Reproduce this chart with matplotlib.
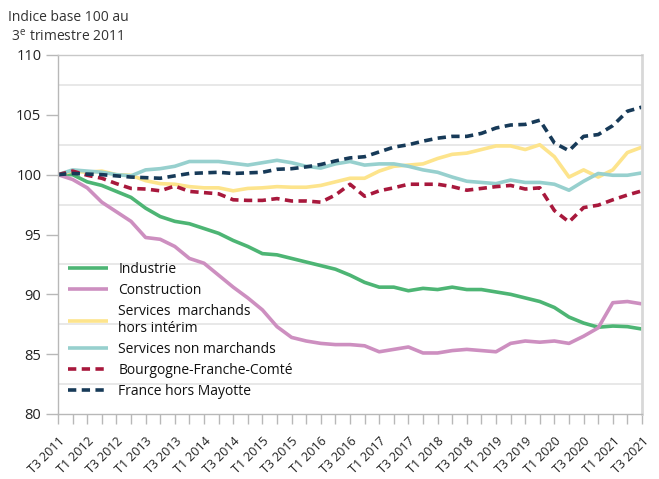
import matplotlib
matplotlib.use("Agg")
import matplotlib.pyplot as plt
import numpy as np

plt.rcParams['font.family'] = ['Open Sans', 'DejaVu Sans']
plt.rcParams['mathtext.fontset'] = 'custom'
plt.rcParams['mathtext.rm'] = 'Open Sans'

quarters = []
for y in range(2011, 2022):
    for q in (1, 2, 3, 4):
        if (y == 2011 and q < 3) or (y == 2021 and q > 3):
            continue
        quarters.append(f"T{q} {y}")

industrie = [100, 100, 99.4, 99.1, 98.6, 98.1, 97.2, 96.5, 96.1, 95.9, 95.5, 95.1, 94.5, 94.0,
             93.4, 93.3, 93.0, 92.7, 92.4, 92.1, 91.6, 91.0, 90.6, 90.6, 90.3, 90.5, 90.4, 90.6,
             90.4, 90.4, 90.2, 90.0, 89.7, 89.4, 88.9, 88.1, 87.6, 87.25, 87.35, 87.3, 87.1]
construction = [100, 99.6, 98.9, 97.7, 96.9, 96.1, 94.75, 94.6, 94.0, 93.0, 92.6, 91.6, 90.6, 89.7,
                88.7, 87.3, 86.4, 86.1, 85.9, 85.8, 85.8, 85.7, 85.2, 85.4, 85.6, 85.1, 85.1, 85.3,
                85.4, 85.3, 85.2, 85.9, 86.1, 86.0, 86.1, 85.9, 86.5, 87.2, 89.3, 89.4, 89.2]
services_marchands = [100, 100.3, 100.2, 100.3, 100.0, 99.95, 99.5, 99.25, 99.2, 99.0, 98.9, 98.9,
                      98.65, 98.85, 98.9, 99.0, 98.95, 98.95, 99.1, 99.4, 99.7, 99.7, 100.3, 100.7,
                      100.8, 100.9, 101.35, 101.7, 101.8, 102.1, 102.4, 102.4, 102.1, 102.5, 101.5,
                      99.8, 100.4, 99.8, 100.4, 101.85, 102.3]
services_non_marchands = [100, 100.4, 100.3, 100.2, 100.0, 99.9, 100.4, 100.5, 100.7, 101.1, 101.1,
                          101.1, 100.95, 100.8, 101.0, 101.2, 101.0, 100.7, 100.55, 100.9, 101.1,
                          100.8, 100.9, 100.9, 100.7, 100.4, 100.2, 99.8, 99.45, 99.35, 99.25,
                          99.55, 99.35, 99.35, 99.2, 98.7, 99.45, 100.1, 99.95, 99.95, 100.15]
bfc = [100, 100.3, 99.95, 99.7, 99.25, 98.85, 98.8, 98.65, 99.05, 98.6, 98.5, 98.4, 97.9, 97.85,
       97.85, 98.0, 97.8, 97.8, 97.7, 98.3, 99.2, 98.2, 98.65, 98.9, 99.2, 99.2, 99.2, 99.0, 98.7,
       98.85, 99.0, 99.1, 98.8, 98.9, 97.0, 96.05, 97.25, 97.45, 97.9, 98.3, 98.65]
france = [100, 100.1, 100.05, 100, 99.9, 99.8, 99.75, 99.7, 99.9, 100.1, 100.15, 100.2, 100.1,
          100.15, 100.2, 100.45, 100.5, 100.65, 100.85, 101.15, 101.4, 101.5, 101.9, 102.3, 102.5,
          102.8, 103.05, 103.2, 103.2, 103.45, 103.9, 104.15, 104.2, 104.55, 102.65, 102.0, 103.2,
          103.35, 104.1, 105.3, 105.65]

series_names = ["Industrie", "Construction", "Services  marchands\nhors intérim",
                "Services non marchands", "Bourgogne-Franche-Comté", "France hors Mayotte"]
y_ticks = [80, 85, 90, 95, 100, 105, 110]

fig = plt.figure(figsize=(6.59, 4.79), dpi=100)
ax = fig.add_axes([58/659, 1-414/479, (642-58)/659, (414-55)/479])

x = np.arange(len(quarters))
styles = [
    (industrie, "#4db574", "-"),
    (construction, "#cd8fc0", "-"),
    (services_marchands, "#fde48c", "-"),
    (services_non_marchands, "#97d0ce", "-"),
    (bfc, "#a8183c", "--"),
    (france, "#173a58", "--"),
]
for (vals, col, ls), name in zip(styles, series_names):
    kw = dict(color=col, lw=2.6, label=name, solid_capstyle='butt')
    if ls == "--":
        kw['dashes'] = (2.3, 1.5)
    ax.plot(x, vals, **kw)

ax.set_xlim(0, len(quarters) - 1)
ax.set_ylim(80, 110)
ax.set_yticks(y_ticks)
ax.set_yticklabels([str(v) for v in y_ticks], fontsize=10.5, color="#222222")
for g in np.arange(82.5, 110, 5):
    ax.axhline(g, color="#e4e4e4", lw=1.2, zorder=0)

ax.set_xticks(x, minor=False)
labels = [q if i % 2 == 0 else "" for i, q in enumerate(quarters)]
ax.set_xticklabels(labels, rotation=45, ha='right', va='top', rotation_mode='anchor',
                   fontsize=9, color="#222222")
ax.tick_params(axis='x', length=7, width=1, color="#b8b8b8", pad=8)
ax.tick_params(axis='y', length=9, width=1, color="#b8b8b8", pad=3)

for side in ('left', 'bottom'):
    ax.spines[side].set_color("#b8b8b8")
    ax.spines[side].set_linewidth(1)
ax.spines['top'].set_color("#c8c8c8")
ax.spines['top'].set_linewidth(1)
ax.spines['right'].set_color("#d8d8d8")
ax.spines['right'].set_linewidth(2)

leg = ax.legend(loc='upper left', bbox_to_anchor=(0.0, 0.45), frameon=False, fontsize=10,
                handlelength=2.9, handletextpad=0.75, labelspacing=0.42, borderaxespad=0.3)
for t in leg.get_texts():
    t.set_color("#111111")

fig.text(8/659, 1-10/479, "Indice base 100 au\n 3$^{\\mathrm{e}}$ trimestre 2011", fontsize=10,
         va='top', ha='left', color="#333333", linespacing=1.3)

fig.savefig("out.png", dpi=100)
